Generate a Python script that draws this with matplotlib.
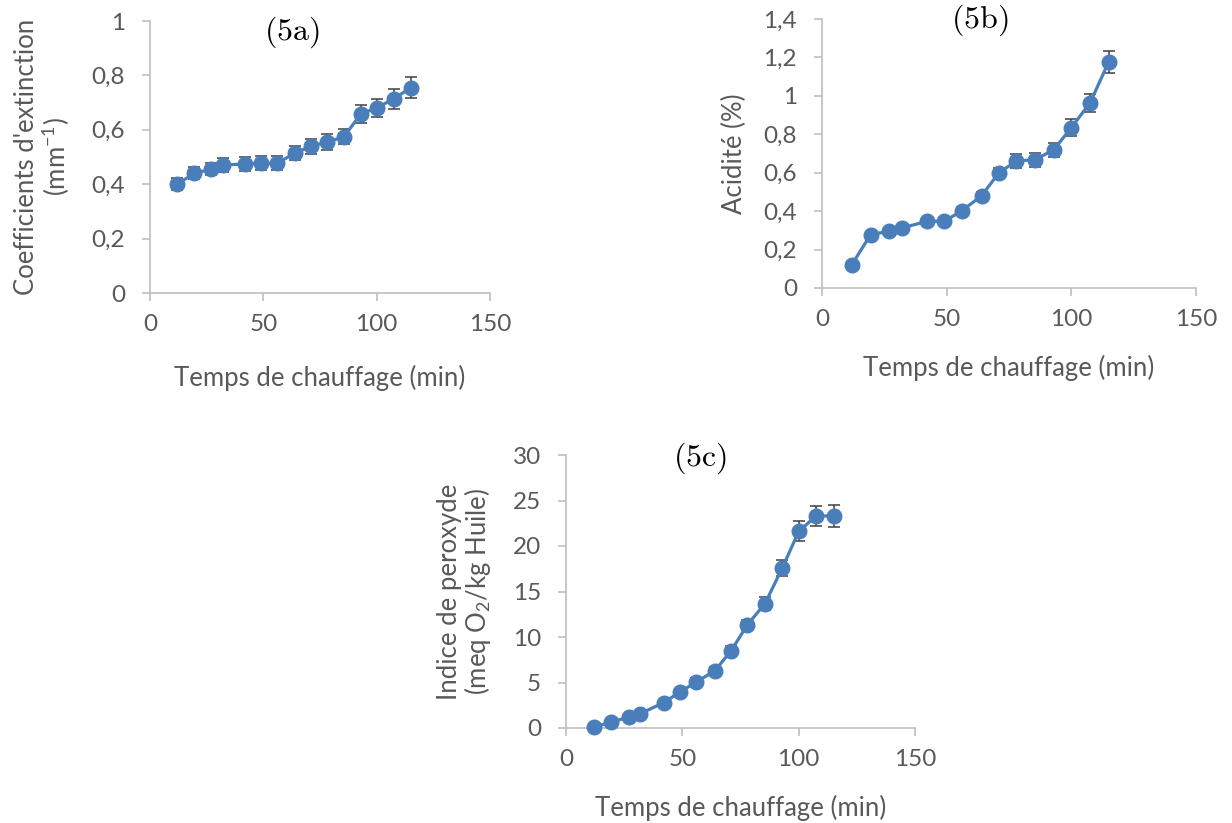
import matplotlib
matplotlib.use("Agg")
import matplotlib.pyplot as plt
from matplotlib.ticker import FuncFormatter, MultipleLocator

# data
temps = [12, 19.5, 27, 32, 42, 49, 56, 64, 71, 78, 85.5, 93, 100, 107.5, 115]

coef = [0.40, 0.44, 0.455, 0.471, 0.474, 0.477, 0.477, 0.514, 0.54, 0.555,
        0.574, 0.658, 0.681, 0.713, 0.755]
coef_err = [0.022, 0.022, 0.023, 0.026, 0.025, 0.025, 0.025, 0.026, 0.028,
            0.028, 0.028, 0.033, 0.034, 0.036, 0.038]

acid = [0.122, 0.278, 0.295, 0.312, 0.347, 0.347, 0.401, 0.48, 0.60, 0.661,
        0.668, 0.72, 0.835, 0.963, 1.177]
acid_err = [0.01, 0.012, 0.012, 0.012, 0.015, 0.015, 0.018, 0.02, 0.025,
            0.035, 0.036, 0.037, 0.042, 0.048, 0.059]

perox = [0.1, 0.66, 1.2, 1.58, 2.79, 3.96, 5.05, 6.3, 8.5, 11.35, 13.66,
         17.6, 21.6, 23.3, 23.3]
perox_err = [0.1, 0.15, 0.2, 0.2, 0.3, 0.3, 0.4, 0.45, 0.5, 0.55, 0.73,
             0.86, 1.1, 1.1, 1.2]

# style
plt.rcParams['font.family'] = ['Lato', 'DejaVu Sans']
blue = '#4A7EBB'
grey_txt = '#595959'
grey_ax = '#BFBFBF'
W, H = 1232, 823

fig = plt.figure(figsize=(W / 100, H / 100), dpi=100)


def px_axes(x0, x1, y0, y1):
    # pixel box (left, right, top, bottom) -> figure axes
    return fig.add_axes([x0 / W, 1 - y1 / H, (x1 - x0) / W, (y1 - y0) / H])


def comma(v, pos):
    return ('%g' % round(v, 2)).replace('.', ',')


def style(ax, ymax, ystep, ylabel, ylabel_pad=10, xlabel_pad=16):
    ax.set_xlim(0, 150)
    ax.set_ylim(0, ymax)
    ax.xaxis.set_major_locator(MultipleLocator(50))
    ax.yaxis.set_major_locator(MultipleLocator(ystep))
    ax.yaxis.set_major_formatter(FuncFormatter(comma))
    for s in ['top', 'right']:
        ax.spines[s].set_visible(False)
    for s in ['left', 'bottom']:
        ax.spines[s].set_color(grey_ax)
        ax.spines[s].set_linewidth(1.2)
    ax.spines['bottom'].set_zorder(0)
    ax.tick_params(colors=grey_ax, labelcolor=grey_txt, labelsize=17.5,
                   length=6, width=1.2, direction='out')
    ax.tick_params(axis='y', pad=12)
    ax.tick_params(axis='x', pad=9)
    ax.set_xlabel('Temps de chauffage (min)', fontsize=18.5, color=grey_txt,
                  labelpad=xlabel_pad)
    ax.set_ylabel(ylabel, fontsize=18.5, color=grey_txt, labelpad=ylabel_pad,
                  linespacing=1.0)


def draw(ax, y, yerr):
    ax.errorbar(temps, y, yerr=yerr, fmt='none', ecolor='#404040',
                elinewidth=1.1, capsize=4.5, capthick=1.1, zorder=2)
    ax.plot(temps, y, '-o', color=blue, lw=2.3, ms=10.5, zorder=3,
            clip_on=False)


# create axes
ax_a = px_axes(150, 490, 21, 293)
ax_b = px_axes(822, 1196, 19, 288)
ax_c = px_axes(566, 915, 455, 728)

# plot
draw(ax_a, coef, coef_err)
draw(ax_b, acid, acid_err)
draw(ax_c, perox, perox_err)

style(ax_a, 1.0, 0.2, "Coefficients d'extinction\n(mm$^{\\mathregular{-1}}$)", 14, 22)
style(ax_b, 1.4, 0.2, 'Acidité (%)', 12, 18)
style(ax_c, 30, 5, 'Indice de peroxyde\n(meq O$_{\\mathregular{2}}$/kg Huile)', 14, 18)

# panel tags in Computer Modern
for txt, x, y in [('(5a)', 292, 32), ('(5b)', 980, 20), ('(5c)', 700, 458)]:
    fig.text(x / W, 1 - y / H, '$\\mathrm{%s}$' % txt, fontsize=23,
             math_fontfamily='cm', ha='center', va='center', color='black')

fig.savefig('out.png', dpi=100)
